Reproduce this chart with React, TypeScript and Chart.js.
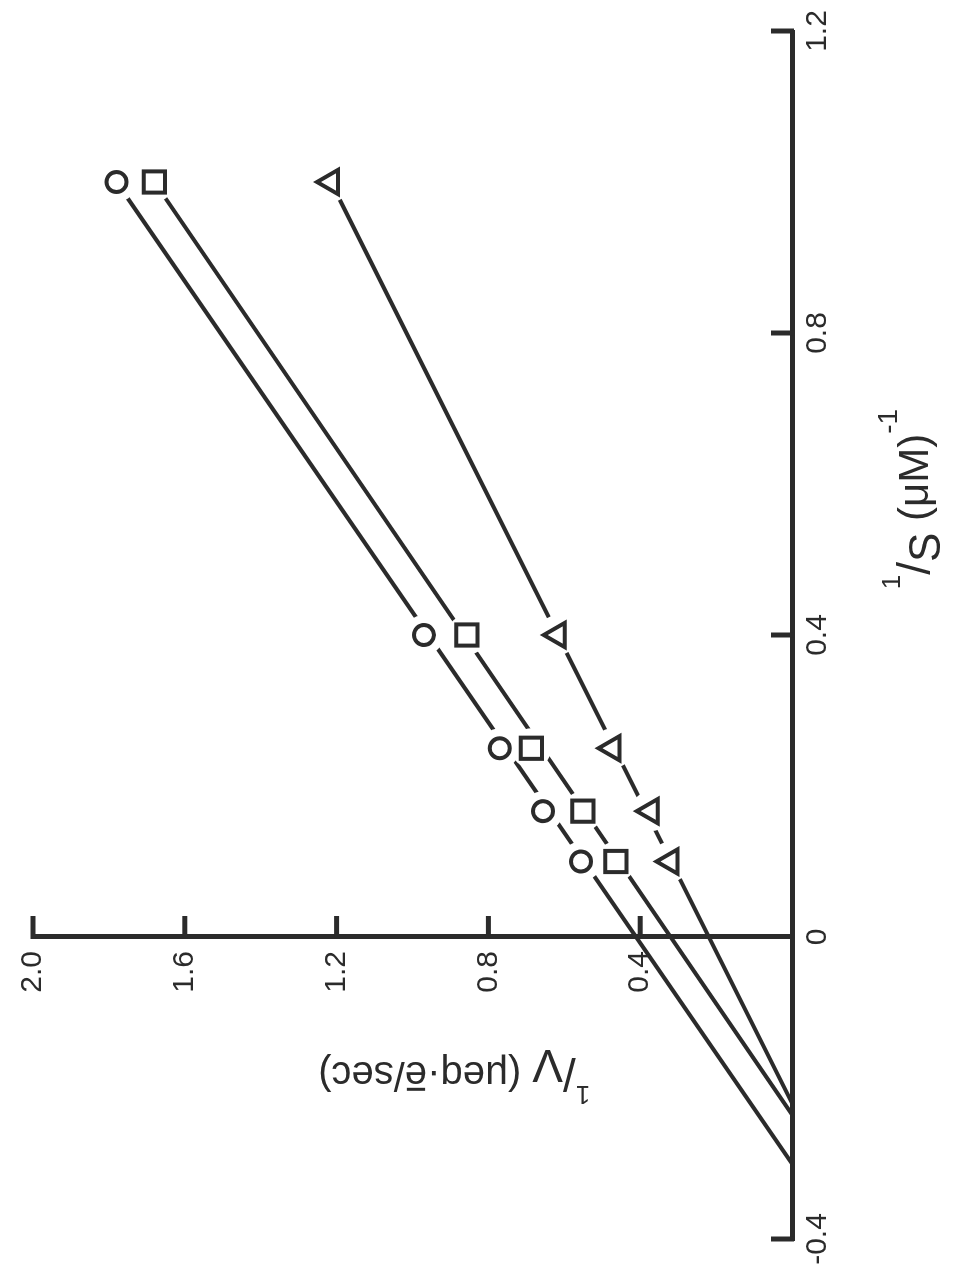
import React, { useEffect, useRef } from 'react';
import { Chart, registerables } from 'chart.js';

Chart.register(...registerables);

// 1/S values (µM^-1) at which the rates were measured
const invS = [1.0, 0.4, 0.25, 0.1667, 0.1];
// 1/V values for the three series
const circleInvV = [1.78, 0.97, 0.77, 0.656, 0.556];
const squareInvV = [1.68, 0.857, 0.687, 0.551, 0.464];
const triangleInvV = [1.215, 0.617, 0.473, 0.372, 0.32];
// where each fitted line meets the 1/S axis (circle, square, triangle)
const xIntercepts = [-0.3, -0.235, -0.22];
// axis ticks
const xTicks = [-0.4, 0, 0.4, 0.8, 1.2];
const yTicks = [0.4, 0.8, 1.2, 1.6, 2.0];

const INK = '#2b2b2b';
const FONT = '"Liberation Sans", Arial, Helvetica, sans-serif';

type Part = { t: string; size: number; dy?: number; over?: boolean };

function drawRich(ctx: CanvasRenderingContext2D, parts: Part[], cx: number, baseline: number) {
  const widths = parts.map((p) => {
    ctx.font = `${p.size}px ${FONT}`;
    return ctx.measureText(p.t).width;
  });
  const total = widths.reduce((a, b) => a + b, 0);
  let x = cx - total / 2;
  ctx.textAlign = 'left';
  ctx.textBaseline = 'alphabetic';
  parts.forEach((p, i) => {
    ctx.font = `${p.size}px ${FONT}`;
    const y = baseline + (p.dy || 0);
    ctx.fillText(p.t, x, y);
    if (p.over) {
      ctx.fillRect(x + 2, y - p.size * 0.52 - 8, widths[i] - 4, 3);
    }
    x += widths[i];
  });
}

const xTitle: Part[] = [
  { t: '1', size: 26, dy: -28 },
  { t: '/', size: 46, dy: 2 },
  { t: 'S', size: 44, dy: 12 },
  { t: ' (μM)', size: 42 },
  { t: '-1', size: 28, dy: -31 },
];

const yTitle: Part[] = [
  { t: '1', size: 26, dy: -24 },
  { t: '/', size: 46, dy: 4 },
  { t: 'V', size: 46, dy: 12 },
  { t: ' (μeq·', size: 40 },
  { t: 'e', size: 40, over: true },
  { t: '/sec)', size: 40 },
];

const decor = {
  id: 'decor',
  beforeDraw(chart: any) {
    // the y axis sits at 1/S = 0; keep a gap between its labels and the axis line
    const ys = chart.scales.y;
    if (ys && typeof ys.getLabelItems === 'function') {
      const items = ys.getLabelItems(chart.chartArea) || [];
      items.forEach((it: any) => {
        if (it && it.options && Array.isArray(it.options.translation) && !it.__shifted) {
          it.options.translation[0] -= 14;
          it.__shifted = true;
        }
      });
    }
  },
  beforeDatasetsDraw(chart: any) {
    const { ctx, scales } = chart;
    const xs = scales.x;
    const ys = scales.y;
    const x0 = xs.getPixelForValue(0);
    const yb = ys.getPixelForValue(0);
    ctx.save();
    ctx.strokeStyle = INK;
    ctx.fillStyle = INK;
    ctx.lineWidth = 5;
    ctx.lineCap = 'butt';
    xTicks.forEach((v) => {
      if (v === 0) return;
      const px = xs.getPixelForValue(v);
      ctx.beginPath();
      ctx.moveTo(px, yb + 2);
      ctx.lineTo(px, yb - 21);
      ctx.stroke();
    });
    yTicks.forEach((v) => {
      const py = ys.getPixelForValue(v);
      ctx.beginPath();
      ctx.moveTo(x0 - 2, py);
      ctx.lineTo(x0 + 21, py);
      ctx.stroke();
    });
    // axis titles
    drawRich(ctx, xTitle, xs.getPixelForValue(0.58), yb + 136);
    ctx.save();
    ctx.translate(x0 - 125, ys.getPixelForValue(0.89));
    ctx.rotate(-Math.PI / 2);
    drawRich(ctx, yTitle, 0, 0);
    ctx.restore();
    ctx.restore();
  },
};

const toPoints = (vals: number[]) => invS.map((s, i) => ({ x: s, y: vals[i] }));
const series = [
  { vals: circleInvV, style: 'circle', radius: 10 },
  { vals: squareInvV, style: 'rect', radius: 15 },
  { vals: triangleInvV, style: 'triangle', radius: 14 },
];

function buildDatasets() {
  const markers = series.map((s) => ({
    data: toPoints(s.vals),
    showLine: false,
    pointStyle: s.style,
    pointRadius: s.radius,
    pointBorderWidth: 4,
    pointBorderColor: INK,
    pointBackgroundColor: '#ffffff',
    order: 1,
  }));
  const masks = series.map((s) => ({
    data: toPoints(s.vals),
    showLine: false,
    pointStyle: 'circle',
    pointRadius: 20,
    pointBorderWidth: 0,
    pointBorderColor: '#ffffff',
    pointBackgroundColor: '#ffffff',
    order: 2,
  }));
  const lines = series.map((s, i) => ({
    data: [
      { x: xIntercepts[i], y: 0 },
      { x: invS[0], y: s.vals[0] },
    ],
    showLine: true,
    borderColor: INK,
    borderWidth: 4,
    pointRadius: 0,
    order: 3,
  }));
  return [...markers, ...masks, ...lines];
}

const fmt = (v: number) => (Math.abs(v) < 1e-9 ? '0' : Number(v).toFixed(1));

export default function App() {
  const ref = useRef<HTMLCanvasElement>(null);
  useEffect(() => {
    const chart = new Chart(ref.current as HTMLCanvasElement, {
      type: 'scatter',
      data: { datasets: buildDatasets() as any },
      options: {
        animation: false,
        responsive: false,
        events: [],
        layout: { padding: { left: 49, right: 31, top: 29, bottom: 0 } },
        plugins: { legend: { display: false }, tooltip: { enabled: false } },
        scales: {
          x: {
            type: 'linear',
            position: 'bottom',
            min: -0.4,
            max: 1.2,
            afterBuildTicks: (s: any) => {
              s.ticks = xTicks.map((value) => ({ value }));
            },
            afterFit: (s: any) => {
              s.height = 170;
            },
            grid: { display: true, drawOnChartArea: false, drawTicks: false },
            border: { display: true, color: INK, width: 5 },
            ticks: {
              color: INK,
              font: { family: FONT, size: 30 },
              padding: 8,
              maxRotation: 0,
              autoSkip: false,
              callback: (v: any) => fmt(Number(v)),
            },
          },
          y: {
            type: 'linear',
            position: { x: 0 } as any,
            min: 0,
            max: 2.0,
            afterBuildTicks: (s: any) => {
              s.ticks = yTicks.map((value) => ({ value }));
            },
            grid: { display: true, drawOnChartArea: false, drawTicks: false },
            border: { display: true, color: INK, width: 5 },
            ticks: {
              color: INK,
              font: { family: FONT, size: 30 },
              padding: 15,
              autoSkip: false,
              callback: (v: any) => fmt(Number(v)),
            },
          },
        },
      },
      plugins: [decor],
    });
    return () => chart.destroy();
  }, []);

  return (
    <div
      style={{
        position: 'absolute',
        left: 0,
        top: 0,
        width: 962,
        height: 1288,
        overflow: 'hidden',
        background: '#ffffff',
      }}
    >
      <div
        style={{
          position: 'absolute',
          left: -163,
          top: 163,
          width: 1288,
          height: 962,
          transform: 'rotate(-90deg)',
          transformOrigin: '50% 50%',
        }}
      >
        <canvas ref={ref} width={1288} height={962} style={{ display: 'block', width: 1288, height: 962 }} />
      </div>
    </div>
  );
}
